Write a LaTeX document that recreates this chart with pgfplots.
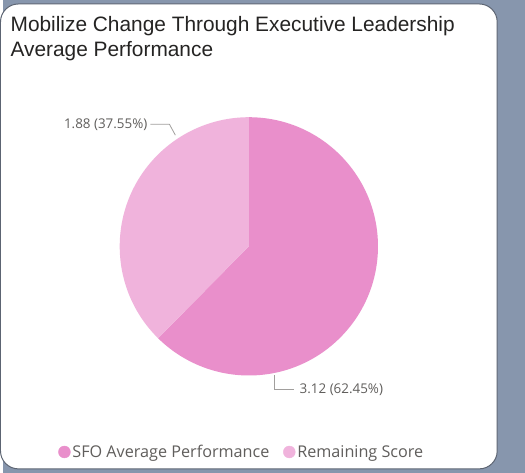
\documentclass[border=0pt]{standalone}
\usepackage{pgfplots}
\usepackage{pgfplotstable}
\usepackage{fontspec}
\pgfplotsset{compat=1.18}
\setmainfont{Liberation Sans}
\newfontfamily\seg{Open Sans}

\definecolor{bg}{HTML}{8796AD}
\definecolor{cardedge}{HTML}{5C6472}
\definecolor{sfo}{HTML}{E98FCB}
\definecolor{rem}{HTML}{F0B3DC}
\definecolor{titletxt}{HTML}{252423}
\definecolor{labtxt}{HTML}{605E5C}
\definecolor{leader}{HTML}{A19F9D}

% slice values
\pgfplotstableread{
label value
SFO 3.12
Remaining 1.88
}\pietable

\begin{document}
\begin{tikzpicture}
\begin{axis}[
  width=525pt, height=476pt, scale only axis,
  xmin=0, xmax=525, ymin=0, ymax=476,
  hide axis, clip=false,
  /pgf/number format/assume math mode=true,
  legend columns=2,
  legend style={at={(axis cs:240,21)}, anchor=center, draw=none, fill=none,
    font=\seg\fontsize{16.3}{19}\selectfont, text=labtxt,
    /tikz/every even column/.append style={column sep=12pt}},
  legend cell align=left,
]
% background and card
\fill[bg] (axis cs:0,0) rectangle (axis cs:525,476);
\filldraw[fill=white, draw=cardedge, line width=1pt, rounded corners=18pt]
  (axis cs:-3,4) rectangle (axis cs:497,472);

\pgfplotstablegetelem{0}{value}\of\pietable \let\va\pgfplotsretval
\pgfplotstablegetelem{1}{value}\of\pietable \let\vb\pgfplotsretval
\pgfmathsetmacro{\tot}{\va+\vb}
\pgfmathsetmacro{\aend}{90-360*\va/\tot}

\fill[sfo] (axis cs:247,228) -- ++(90:130pt) arc[start angle=90, end angle=\aend, radius=130pt] -- cycle;
\fill[rem] (axis cs:247,228) -- ++(\aend:130pt) arc[start angle=\aend, end angle=-270, radius=130pt] -- cycle;

\addlegendimage{only marks, mark=*, mark size=6pt, color=sfo}
\addlegendentry{SFO Average Performance}
\addlegendimage{only marks, mark=*, mark size=6pt, color=rem}
\addlegendentry{Remaining Score}

% data labels
\draw[leader, line width=0.8pt] (axis cs:148,351) -- (axis cs:167,351) -- (axis cs:173,340);
\node[anchor=east, inner sep=0pt, text=labtxt, font=\seg\fontsize{13.5}{16}\selectfont]
  at (axis cs:145,350) {\pgfmathprintnumber[fixed,precision=2,assume math mode=true]{\vb} (37.55\%)};
\draw[leader, line width=0.8pt] (axis cs:273,98) -- (axis cs:273,84) -- (axis cs:292,84);
\node[anchor=west, inner sep=0pt, text=labtxt, font=\seg\fontsize{13.5}{16}\selectfont]
  at (axis cs:298,84) {\pgfmathprintnumber[fixed,precision=2,assume math mode=true]{\va} (62.45\%)};

% title
\node[anchor=base west, inner sep=0pt, text=titletxt,
  font=\fontsize{21}{25}\selectfont] at (axis cs:7,444)
  {Mobilize Change Through Executive Leadership};
\node[anchor=base west, inner sep=0pt, text=titletxt,
  font=\fontsize{21}{25}\selectfont] at (axis cs:7,419)
  {Average Performance};
\end{axis}
\end{tikzpicture}
\end{document}
